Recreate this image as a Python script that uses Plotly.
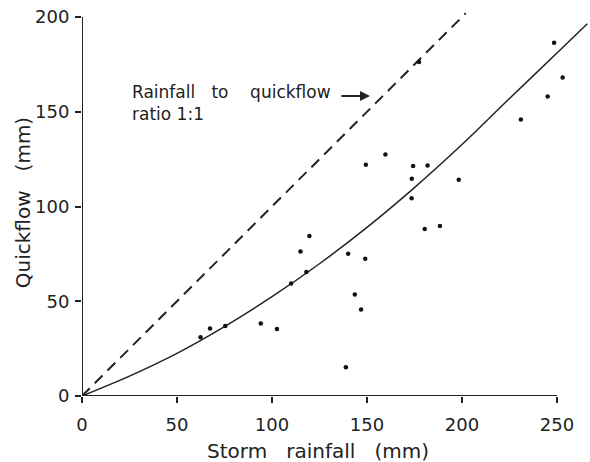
import plotly.graph_objects as go

# Observed storms: rainfall (mm) vs quickflow (mm)
storm_rainfall = [62.4, 67.4, 75.4, 94.1, 102.6, 110.1, 115.0, 118.1, 119.7,
                  138.9, 140.1, 143.6, 146.9, 149.1, 149.4, 159.7, 173.5, 173.6,
                  174.3, 177.4, 180.4, 181.9, 188.4, 198.3, 231.0, 245.1, 248.5, 253.0]
quickflow = [31.0, 35.6, 36.9, 38.3, 35.3, 59.4, 76.2, 65.5, 84.5,
             15.2, 75.1, 53.6, 45.7, 72.4, 122.1, 127.5, 104.4, 114.6,
             121.4, 176.3, 88.2, 121.6, 89.7, 114.1, 145.9, 158.1, 186.5, 168.1]

# Fitted relation
curve_x = [0, 25, 50, 75, 100, 125, 150, 175, 200, 225, 250, 266]
curve_y = [0, 10.5, 22.5, 36.6, 52.4, 69.8, 89.0, 110.0, 132.7, 157.0, 181.0, 196.5]

# 1:1 reference line
ratio_x = [0, 202]
ratio_y = [0, 202]

x_ticks = [0, 50, 100, 150, 200, 250]
y_ticks = [0, 50, 100, 150, 200]

INK = "#222222"
FONT = "DejaVu Sans"
SP3 = "\u00a0\u00a0\u00a0"

fig = go.Figure()
fig.add_trace(go.Scatter(x=ratio_x, y=ratio_y, mode="lines",
                         line=dict(color=INK, width=2, dash="11px,7px"),
                         hoverinfo="skip"))
fig.add_trace(go.Scatter(x=curve_x, y=curve_y, mode="lines",
                         line=dict(color=INK, width=1.5, shape="spline", smoothing=0.8),
                         hoverinfo="skip"))
fig.add_trace(go.Scatter(x=storm_rainfall, y=quickflow, mode="markers",
                         marker=dict(color="#111", size=4.5)))

# axis lines (end at last tick)
fig.add_shape(type="line", xref="x", yref="y", x0=0, x1=x_ticks[-1], y0=0, y1=0,
              line=dict(color=INK, width=2))
fig.add_shape(type="line", xref="x", yref="y", x0=0, x1=0, y0=0, y1=y_ticks[-1],
              line=dict(color=INK, width=2))

fig.add_annotation(x=25.3, y=154.9, xref="x", yref="y", xanchor="left", yanchor="middle",
                   text="Rainfall" + SP3 + "to" + SP3 + "\u00a0quickflow<br>ratio\u00a01:1",
                   align="left", showarrow=False, font=dict(family=FONT, size=17, color=INK))
fig.add_annotation(x=151.6, y=158.3, xref="x", yref="y", ax=-30, ay=0,
                   showarrow=True, arrowhead=2, arrowsize=1, arrowwidth=2,
                   arrowcolor=INK, text="")

fig.add_annotation(x=0.4655, y=-0.139, xref="paper", yref="paper",
                   text="Storm" + SP3 + "rainfall" + SP3 + "(mm)", showarrow=False,
                   xanchor="center", yanchor="middle", font=dict(family=FONT, size=20, color=INK))
fig.add_annotation(x=-0.116, y=0.487, xref="paper", yref="paper", textangle=-90,
                   text="Quickflow" + SP3 + "(mm)", showarrow=False,
                   xanchor="center", yanchor="middle", font=dict(family=FONT, size=20, color=INK))

fig.update_layout(
    width=590, height=462,
    margin=dict(l=82, r=0, t=0, b=66),
    paper_bgcolor="white", plot_bgcolor="white",
    showlegend=False,
    font=dict(family=FONT, size=18, color=INK),
    xaxis=dict(range=[0, 267.4], tickvals=x_ticks, ticks="outside", ticklen=6,
               tickwidth=2, tickcolor=INK, showline=False, showgrid=False,
               zeroline=False, ticklabelstandoff=6),
    yaxis=dict(range=[0, 209.0], tickvals=y_ticks, ticks="outside", ticklen=6,
               tickwidth=2, tickcolor=INK, showline=False, showgrid=False,
               zeroline=False, ticklabelstandoff=2),
)

fig.write_html("out.html")
